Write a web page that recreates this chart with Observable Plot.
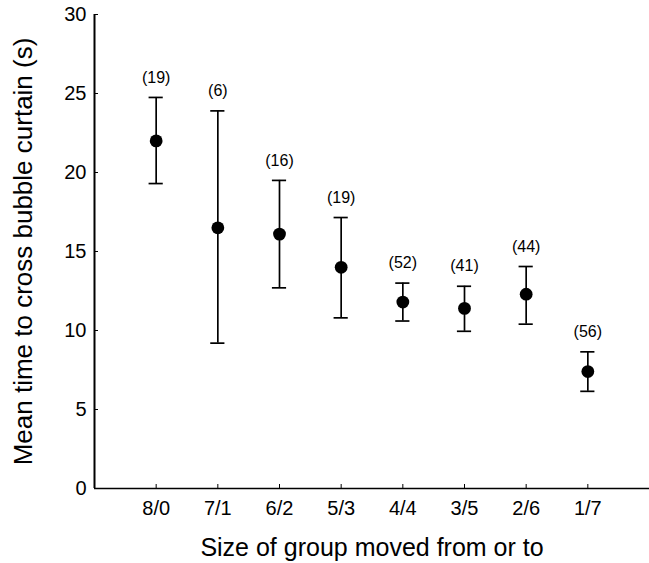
<!DOCTYPE html>
<html><head><meta charset="utf-8">
<script src="https://cdn.jsdelivr.net/npm/d3@7"></script>
<script src="https://cdn.jsdelivr.net/npm/@observablehq/plot@0.6"></script>
<style>body{margin:0;background:#fff;} svg{font-family:"Liberation Sans",Arial,sans-serif;}</style>
</head><body><div id="chart"></div>
<script>
const groups = ["8/0","7/1","6/2","5/3","4/4","3/5","2/6","1/7"];
const means = [22.0,16.5,16.1,14.0,11.8,11.4,12.3,7.4];
const upper = [24.75,23.9,19.5,17.15,13.0,12.8,14.05,8.65];
const lower = [19.3,9.2,12.7,10.8,10.6,9.95,10.4,6.15];
const nLabels = ["(19)","(6)","(16)","(19)","(52)","(41)","(44)","(56)"];
const yTicks = [0,5,10,15,20,25,30];
const xTitle = "Size of group moved from or to";
const yTitle = "Mean time to cross bubble curtain (s)";

const data = groups.map((g,i)=>({pos:i+1, group:g, mean:means[i], hi:upper[i], lo:lower[i], n:nLabels[i]}));
const capHalf = 0.115;

const plot = Plot.plot({
  width:649, height:563, marginLeft:94, marginRight:0, marginTop:14, marginBottom:75,
  style:{fontFamily:'"Liberation Sans",Arial,sans-serif', fontSize:"16px", color:"#000", background:"#fff"},
  x:{domain:[0,9], axis:null},
  y:{domain:[0,30], axis:null},
  marks:[
    Plot.axisY({ticks:yTicks, tickSize:-4, tickPadding:12, fontSize:20, label:null}),
    Plot.axisX({ticks:data.map(d=>d.pos), tickFormat:p=>groups[p-1], tickSize:-4, tickPadding:16, fontSize:20, label:null}),
    Plot.ruleX([0], {y1:0, y2:30, stroke:"#000", strokeWidth:2}),
    Plot.ruleY([0], {stroke:"#000", strokeWidth:1.5}),
    Plot.ruleX(data, {x:"pos", y1:"lo", y2:"hi", stroke:"#000", strokeWidth:1.7}),
    Plot.ruleY(data, {y:"hi", x1:d=>d.pos-capHalf, x2:d=>d.pos+capHalf, stroke:"#000", strokeWidth:1.7}),
    Plot.ruleY(data, {y:"lo", x1:d=>d.pos-capHalf, x2:d=>d.pos+capHalf, stroke:"#000", strokeWidth:1.7}),
    Plot.dot(data, {x:"pos", y:"mean", r:6.4, fill:"#000", stroke:"none"}),
    Plot.text(data, {x:"pos", y:"hi", text:"n", dy:-20, fontSize:16, fill:"#000"}),
    Plot.text([xTitle], {frameAnchor:"bottom", textAnchor:"middle", dy:67, fontSize:25, fill:"#000"}),
    Plot.text([yTitle], {frameAnchor:"left", textAnchor:"middle", dx:-71, rotate:-90, fontSize:26, fill:"#000"})
  ]
});
document.getElementById("chart").appendChild(plot);
</script>
</body></html>
